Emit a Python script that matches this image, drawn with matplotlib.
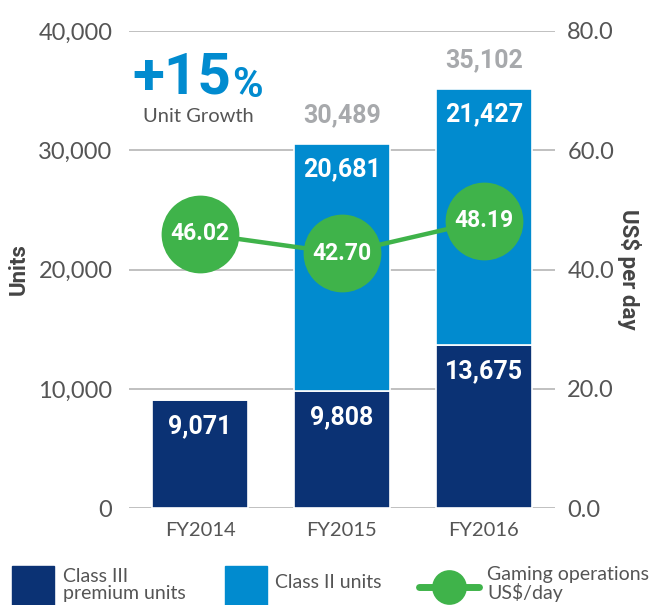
import numpy as np
import matplotlib.pyplot as plt
from matplotlib.patches import Rectangle
from matplotlib.lines import Line2D

plt.rcParams['font.family'] = ['Lato', 'DejaVu Sans']

years = ['FY2014', 'FY2015', 'FY2016']
class3 = [9071, 9808, 13675]
class2 = [0, 20681, 21427]
usd_day = [46.02, 42.70, 48.19]
legend_labels = ['Class III\npremium units', 'Class II units', 'Gaming operations\nUS$/day']

navy = '#0b3274'
blue = '#018bcf'
green = '#3fb34a'
gray = '#555555'
lgray = '#a7a9ac'
num_font = ['Roboto', 'DejaVu Sans']

W, H = 652, 605
fig = plt.figure(figsize=(W / 100, H / 100), dpi=100)
ax = fig.add_axes([0.198, 0.160, 0.653, 0.789])
x = np.arange(len(years))
w = 0.68

ax.bar(x, class3, w, color=navy, edgecolor='white', linewidth=1.2, zorder=2)
ax.bar(x, class2, w, bottom=class3, color=blue, edgecolor='white', linewidth=1.2, zorder=2)

ax.set_xlim(-0.5, 2.5)
ax.set_ylim(0, 40000)
ax.set_yticks(np.arange(0, 40001, 10000))
ax.set_yticklabels([f'{v:,}' for v in range(0, 40001, 10000)])
ax.set_xticks(x)
ax.set_xticklabels(years)
ax.grid(axis='y', color='#b5b5b5', linewidth=1.2, zorder=0)
ax.set_axisbelow(True)
for s in ax.spines.values():
    s.set_visible(False)
ax.tick_params(axis='both', length=0, labelsize=17, colors=gray, pad=12)
ax.tick_params(axis='x', labelsize=14.5, pad=10)
ax.set_ylabel('Units', fontsize=16, fontweight='bold', color='#444444', labelpad=6,
              family=num_font)

for i in range(len(years)):
    c3 = class3[i]
    c2 = class2[i]
    ax.annotate(f'{c3:,}', (x[i], c3), xytext=(0, -19), textcoords='offset points',
                ha='center', va='center', color='white', fontsize=18,
                fontweight='bold', family=num_font, zorder=5)
    if c2 > 0:
        ax.annotate(f'{c2:,}', (x[i], c3 + c2), xytext=(0, -18), textcoords='offset points',
                    ha='center', va='center', color='white', fontsize=18,
                    fontweight='bold', family=num_font, zorder=5)
        ax.annotate(f'{c3 + c2:,}', (x[i], c3 + c2), xytext=(0, 21), textcoords='offset points',
                    ha='center', va='center', color=lgray, fontsize=18,
                    fontweight='bold', family=num_font, zorder=5)

ax2 = ax.twinx()
ax2.set_ylim(0, 80)
ax2.set_yticks(np.arange(0, 81, 20))
ax2.set_yticklabels([f'{v:.1f}' for v in range(0, 81, 20)])
for s in ax2.spines.values():
    s.set_visible(False)
ax2.tick_params(axis='y', length=0, labelsize=17, colors=gray, pad=9)
ax2.set_ylabel('US$ per day', fontsize=16, fontweight='bold', color='#444444',
               rotation=-90, labelpad=19, family=num_font)
ax2.plot(x, usd_day, color=green, linewidth=3.2, marker='o', markersize=56,
         markeredgewidth=0, zorder=3)
for i in range(len(years)):
    ax2.text(x[i], usd_day[i], f'{usd_day[i]:.2f}', ha='center', va='center',
             color='white', fontsize=16.5, fontweight='bold', family=num_font, zorder=6)

# "+15%" callout
t15 = fig.text(132 / W, 1 - 94 / H, '+15', ha='left', va='baseline', color=blue,
               fontsize=42, fontweight='bold', family=num_font)
ax.annotate('%', xy=(1, 0), xycoords=t15, xytext=(1, 0), textcoords='offset points',
            ha='left', va='bottom', color=blue, fontsize=30, fontweight='bold',
            family=num_font, annotation_clip=False)
fig.text(198 / W, 1 - 116 / H, 'Unit Growth', ha='center', va='center', color=gray,
         fontsize=14.5)

# legend drawn by hand in pixel positions
fig.add_artist(Rectangle((12 / W, 0), 42 / W, 39 / H, transform=fig.transFigure,
                         color=navy))
fig.add_artist(Rectangle((225 / W, 0), 42 / W, 39 / H, transform=fig.transFigure,
                         color=blue))
fig.add_artist(Line2D([419 / W, 479 / W], [1 - 587 / H, 1 - 587 / H],
                      transform=fig.transFigure, color=green, linewidth=5,
                      solid_capstyle='round'))
fig.add_artist(Line2D([449 / W], [1 - 587 / H], transform=fig.transFigure,
                      color=green, marker='o', markersize=25, markeredgewidth=0))
fig.text(63 / W, 1 - 585 / H, legend_labels[0], ha='left', va='center', color=gray,
         fontsize=14, linespacing=1.0)
fig.text(275 / W, 1 - 583 / H, legend_labels[1], ha='left', va='center', color=gray,
         fontsize=14)
fig.text(487 / W, 1 - 584 / H, legend_labels[2], ha='left', va='center', color=gray,
         fontsize=14, linespacing=1.0)

fig.savefig('out.png', dpi=100)
